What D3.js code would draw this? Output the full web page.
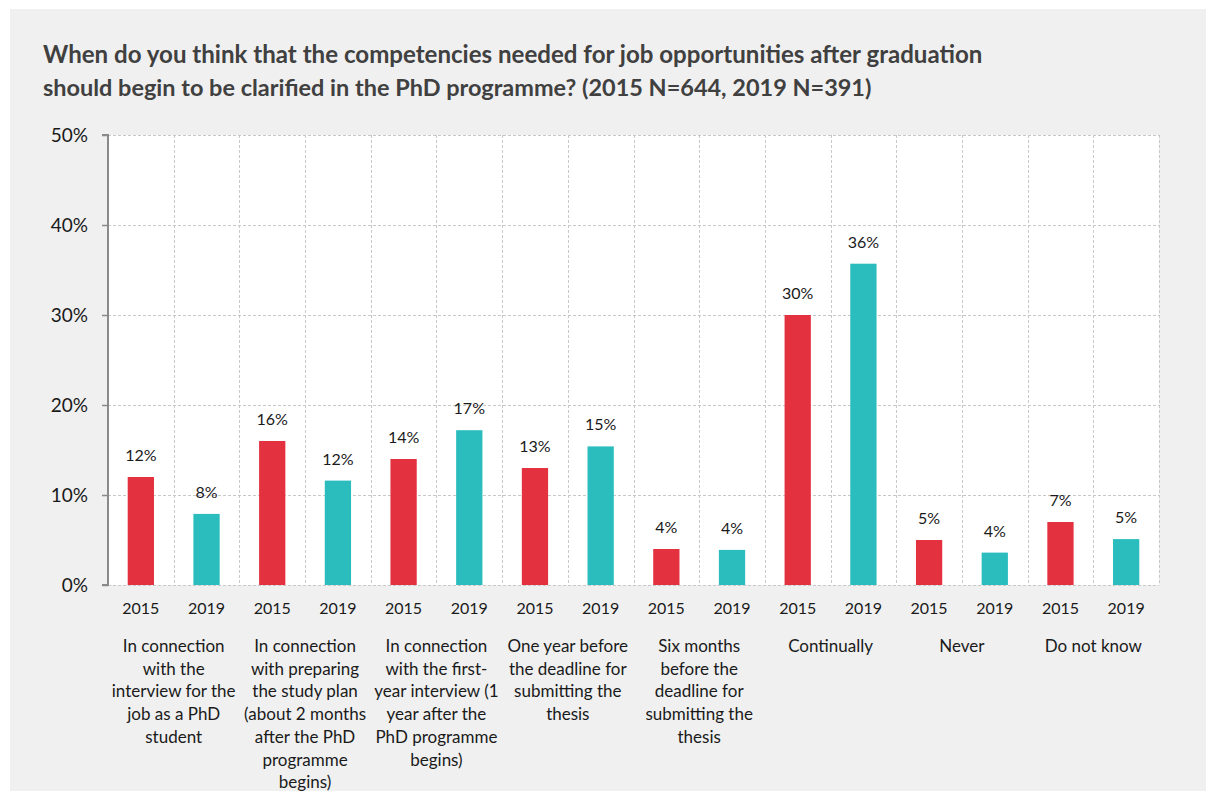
<!DOCTYPE html>
<html>
<head>
<meta charset="utf-8">
<script src="https://cdn.jsdelivr.net/npm/d3@7"></script>
<style>
  html, body { margin: 0; padding: 0; background: #ffffff; }
  svg { display: block; }
  text { font-family: Lato, "Open Sans", sans-serif; }
</style>
</head>
<body>
<svg id="chart" width="1206" height="791"></svg>
<script>
const titleLines = [
  "When do you think that the competencies needed for job opportunities after graduation",
  "should begin to be clarified in the PhD programme? (2015 N=644, 2019 N=391)"
];
const categories = [
  ["In connection", "with the", "interview for the", "job as a PhD", "student"],
  ["In connection", "with preparing", "the study plan", "(about 2 months", "after the PhD", "programme", "begins)"],
  ["In connection", "with the first-", "year interview (1", "year after the", "PhD programme", "begins)"],
  ["One year before", "the deadline for", "submitting the", "thesis"],
  ["Six months", "before the", "deadline for", "submitting the", "thesis"],
  ["Continually"],
  ["Never"],
  ["Do not know"]
];
const years = ["2015", "2019"];
const values2015 = [12, 16, 14, 13, 4, 30, 5, 7];
const values2019 = [7.9, 11.6, 17.2, 15.4, 3.9, 35.7, 3.6, 5.1];
const labels2015 = ["12%", "16%", "14%", "13%", "4%", "30%", "5%", "7%"];
const labels2019 = ["8%", "12%", "17%", "15%", "4%", "36%", "4%", "5%"];
const yTicks = [0, 10, 20, 30, 40, 50];
const colors = { "2015": "#e4313f", "2019": "#2bbdbd" };

const svg = d3.select("#chart");
// background
svg.append("rect").attr("x", 10).attr("y", 9).attr("width", 1196).attr("height", 782).attr("fill", "#f0f0f0");

const margin = { left: 108, right: 1159, top: 135, bottom: 585 };

// slots
const slots = [];
categories.forEach((c, i) => {
  years.forEach((yr, j) => {
    slots.push({ cat: i, year: yr, key: i + "-" + yr,
      value: j === 0 ? values2015[i] : values2019[i],
      label: j === 0 ? labels2015[i] : labels2019[i] });
  });
});

const x = d3.scaleBand().domain(slots.map(d => d.key)).range([margin.left, margin.right]).paddingInner(0).paddingOuter(0);
const y = d3.scaleLinear().domain([0, 50]).range([margin.bottom, margin.top]);

// plot area
svg.append("rect").attr("x", margin.left).attr("y", margin.top)
  .attr("width", margin.right - margin.left).attr("height", margin.bottom - margin.top).attr("fill", "#ffffff");

// horizontal gridlines
svg.append("g").selectAll("line").data(yTicks).join("line")
  .attr("x1", margin.left).attr("x2", margin.right)
  .attr("y1", d => y(d) + 0.5).attr("y2", d => y(d) + 0.5)
  .attr("stroke", "#c8c8c8").attr("stroke-width", 1).attr("stroke-dasharray", "3,2");

// vertical gridlines at slot boundaries
const bounds = slots.map(d => x(d.key)).slice(1).concat([margin.right]);
svg.append("g").selectAll("line").data(bounds).join("line")
  .attr("x1", d => Math.round(d) + 0.5).attr("x2", d => Math.round(d) + 0.5)
  .attr("y1", margin.top).attr("y2", margin.bottom)
  .attr("stroke", "#c8c8c8").attr("stroke-width", 1).attr("stroke-dasharray", "3,2");

// bars
const bw = x.bandwidth() * 0.4;
svg.append("g").selectAll("rect").data(slots).join("rect")
  .attr("x", d => x(d.key) + (x.bandwidth() - bw) / 2)
  .attr("width", bw)
  .attr("y", d => y(d.value))
  .attr("height", d => y(0) - y(d.value))
  .attr("fill", d => colors[d.year]);

// value labels
svg.append("g").selectAll("text").data(slots).join("text")
  .attr("x", d => x(d.key) + x.bandwidth() / 2)
  .attr("y", d => y(d.value) - 16)
  .attr("text-anchor", "middle")
  .attr("font-size", 16)
  .attr("fill", "#1a1a1a")
  .text(d => d.label);

// y axis
const yAxis = d3.axisLeft(y).tickValues(yTicks).tickFormat(d => d + "%").tickSize(6).tickPadding(14);
const gy = svg.append("g").attr("transform", `translate(${margin.left},0)`).call(yAxis);
gy.select(".domain").attr("stroke", "#8a8a8a").attr("stroke-width", 2).attr("d", `M-6,${margin.top}H0V${margin.bottom}H-6`);
gy.selectAll(".tick line").attr("stroke", "#8a8a8a").attr("stroke-width", 1.5);
gy.selectAll(".tick text").attr("font-size", 19).attr("fill", "#1a1a1a").attr("font-family", "Lato, sans-serif");

// year labels
svg.append("g").selectAll("text").data(slots).join("text")
  .attr("x", d => x(d.key) + x.bandwidth() / 2)
  .attr("y", 614)
  .attr("text-anchor", "middle")
  .attr("font-size", 16)
  .attr("fill", "#1a1a1a")
  .text(d => d.year);

// category labels
const catG = svg.append("g");
categories.forEach((lines, i) => {
  const cx = x(i + "-2015") + x.bandwidth();
  const t = catG.append("text").attr("text-anchor", "middle").attr("font-size", 17).attr("fill", "#1a1a1a");
  lines.forEach((ln, k) => {
    t.append("tspan").attr("x", cx).attr("y", 652 + k * 22.7).text(ln);
  });
});

// title
const tg = svg.append("g");
const targets = [940, 829];
[63, 96].forEach((yy, k) => {
  const t = tg.append("text").attr("x", 43).attr("y", yy).attr("font-size", 22).attr("font-weight", 700).attr("fill", "#404040").text(titleLines[k]);
  const w = t.node().getComputedTextLength();
  t.attr("font-size", 22 * targets[k] / w);
});
</script>
</body>
</html>
